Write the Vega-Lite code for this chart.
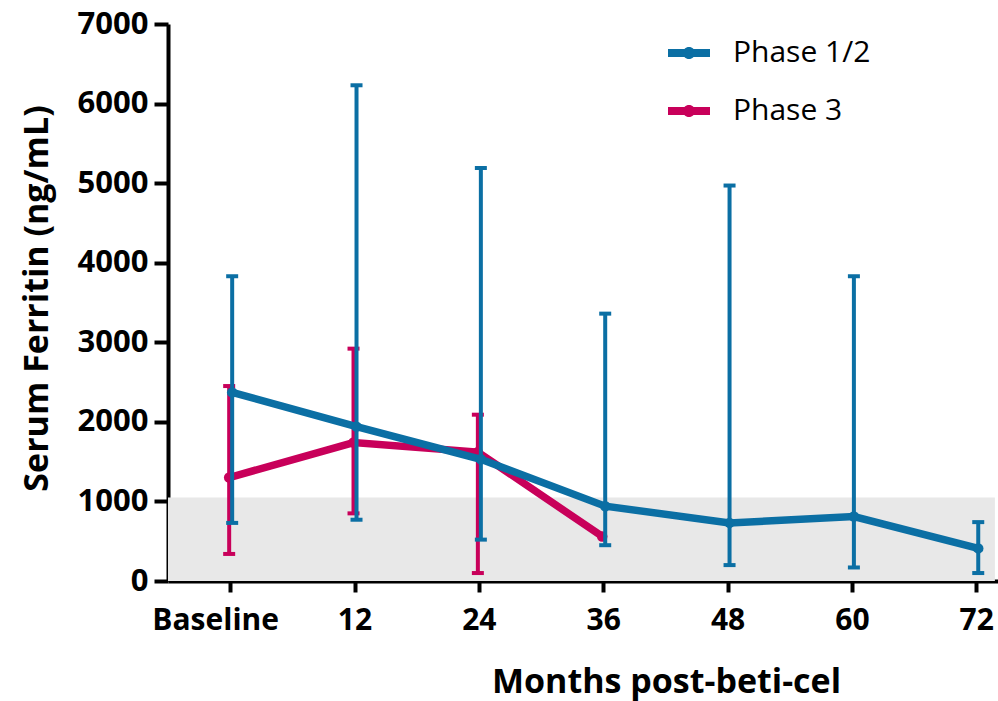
{
  "$schema": "https://vega.github.io/schema/vega-lite/v6.json",
  "width": 830,
  "height": 557,
  "autosize": "none",
  "padding": {"left": 168, "top": 24, "right": 0, "bottom": 120},
  "background": "white",
  "config": {
    "view": {"stroke": null},
    "font": "Open Sans",
    "axis": {
      "grid": false,
      "domainColor": "black",
      "domainWidth": 4,
      "tickColor": "black",
      "tickWidth": 4,
      "labelColor": "black",
      "titleColor": "black",
      "labelFont": "Open Sans",
      "titleFont": "Open Sans",
      "labelFontWeight": "bold",
      "titleFontWeight": "bold"
    }
  },
  "datasets": {
    "ferritin": [
      {"phase": "Phase 1/2", "month": 0, "mean": 2370, "lo": 730, "hi": 3830},
      {"phase": "Phase 1/2", "month": 12, "mean": 1940, "lo": 770, "hi": 6230},
      {"phase": "Phase 1/2", "month": 24, "mean": 1530, "lo": 520, "hi": 5190},
      {"phase": "Phase 1/2", "month": 36, "mean": 940, "lo": 450, "hi": 3360},
      {"phase": "Phase 1/2", "month": 48, "mean": 730, "lo": 200, "hi": 4970},
      {"phase": "Phase 1/2", "month": 60, "mean": 810, "lo": 170, "hi": 3830},
      {"phase": "Phase 1/2", "month": 72, "mean": 410, "lo": 100, "hi": 740},
      {"phase": "Phase 3", "month": 0, "mean": 1300, "lo": 340, "hi": 2450},
      {"phase": "Phase 3", "month": 12, "mean": 1740, "lo": 850, "hi": 2920},
      {"phase": "Phase 3", "month": 24, "mean": 1620, "lo": 100, "hi": 2090},
      {"phase": "Phase 3", "month": 36, "mean": 560, "lo": null, "hi": null}
    ],
    "band": [{"lower": 0, "upper": 1050, "start": -6, "end": 73.8}]
  },
  "encoding": {
    "x": {
      "field": "month",
      "type": "quantitative",
      "scale": {"domain": [-6, 74.1], "nice": false, "zero": false},
      "axis": {
        "values": [0, 12, 24, 36, 48, 60, 72],
        "labelExpr": "datum.value == 0 ? 'Baseline' : datum.label",
        "labelFontSize": 30,
        "labelOffset": {"condition": {"test": "datum.value == 0", "value": -15}, "value": 0},
        "tickSize": 11,
        "labelPadding": 13,
        "labelFlush": false,
        "labelOverlap": false,
        "title": "Months post-beti-cel",
        "titleFontSize": 34,
        "titleX": 498,
        "titleY": 111,
        "titleAlign": "center",
        "titleBaseline": "alphabetic"
      }
    },
    "y": {
      "field": "mean",
      "type": "quantitative",
      "scale": {"domain": [0, 7000], "nice": false},
      "axis": {
        "values": [0, 1000, 2000, 3000, 4000, 5000, 6000, 7000],
        "format": "d",
        "labelFontSize": 31,
        "tickSize": 14,
        "labelPadding": 6,
        "title": "Serum Ferritin (ng/mL)",
        "titleFontSize": 34,
        "titleAngle": -90,
        "titleX": -121,
        "titleY": 274,
        "titleAlign": "center",
        "titleBaseline": "alphabetic"
      }
    },
    "color": {
      "field": "phase",
      "type": "nominal",
      "scale": {"domain": ["Phase 1/2", "Phase 3"], "range": ["#0b6fa4", "#c8005a"]},
      "legend": {
        "title": null,
        "orient": "none",
        "legendX": 500,
        "legendY": 8,
        "padding": 0,
        "labelFont": "Open Sans",
        "labelFontSize": 30,
        "labelColor": "black",
        "labelOffset": 23,
        "rowPadding": 22,
        "symbolSize": 1764,
        "symbolStrokeWidth": 0,
        "symbolType": "M-1,-0.19L1,-0.19L1,0.19L-1,0.19Z M-0.29,0A0.29,0.29 0 1,1 0.29,0A0.29,0.29 0 1,1 -0.29,0Z",
        "encode": {"symbols": {"update": {"fill": {"scale": "color", "field": "value"}, "strokeWidth": {"value": 0}, "opacity": {"value": 1}}}}
      }
    }
  },
  "layer": [
    {
      "data": {"name": "band"},
      "mark": {"type": "rect", "color": "#e8e8e8"},
      "encoding": {
        "x": {"field": "start", "type": "quantitative"},
        "x2": {"field": "end"},
        "y": {"field": "lower", "type": "quantitative"},
        "y2": {"field": "upper"},
        "color": null
      }
    },
    {
      "data": {"name": "ferritin"},
      "transform": [{"filter": "datum.phase == 'Phase 3'"}],
      "layer": [
        {
          "transform": [{"filter": "datum.lo != null"}],
          "mark": {"type": "rule", "strokeWidth": 4, "xOffset": -1},
          "encoding": {"y": {"field": "lo", "type": "quantitative"}, "y2": {"field": "hi"}}
        },
        {
          "transform": [{"filter": "datum.lo != null"}],
          "mark": {"type": "tick", "orient": "horizontal", "size": 12, "thickness": 4, "opacity": 1, "xOffset": -1},
          "encoding": {"y": {"field": "lo", "type": "quantitative"}}
        },
        {
          "transform": [{"filter": "datum.lo != null"}],
          "mark": {"type": "tick", "orient": "horizontal", "size": 12, "thickness": 4, "opacity": 1, "xOffset": -1},
          "encoding": {"y": {"field": "hi", "type": "quantitative"}}
        },
        {
          "mark": {"type": "line", "strokeWidth": 7.5, "xOffset": -1},
          "encoding": {}
        },
        {
          "mark": {"type": "point", "filled": true, "size": 110, "opacity": 1, "xOffset": -1},
          "encoding": {}
        }
      ]
    },
    {
      "data": {"name": "ferritin"},
      "transform": [{"filter": "datum.phase == 'Phase 1/2'"}],
      "layer": [
        {
          "mark": {"type": "rule", "strokeWidth": 4, "xOffset": 2},
          "encoding": {"y": {"field": "lo", "type": "quantitative"}, "y2": {"field": "hi"}}
        },
        {
          "mark": {"type": "tick", "orient": "horizontal", "size": 12, "thickness": 4, "opacity": 1, "xOffset": 2},
          "encoding": {"y": {"field": "lo", "type": "quantitative"}}
        },
        {
          "mark": {"type": "tick", "orient": "horizontal", "size": 12, "thickness": 4, "opacity": 1, "xOffset": 2},
          "encoding": {"y": {"field": "hi", "type": "quantitative"}}
        },
        {
          "mark": {"type": "line", "strokeWidth": 7.5, "xOffset": 2},
          "encoding": {}
        },
        {
          "mark": {"type": "point", "filled": true, "size": 110, "opacity": 1, "xOffset": 2},
          "encoding": {}
        }
      ]
    }
  ]
}
